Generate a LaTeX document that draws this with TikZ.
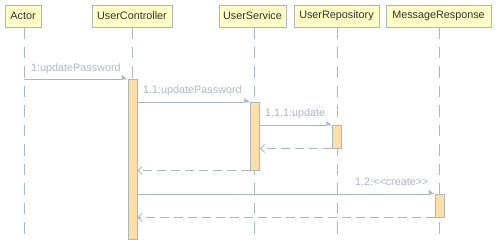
\documentclass[tikz,border=0pt]{standalone}
\usepackage{fontspec}
\setmainfont{Liberation Sans}
\usetikzlibrary{arrows.meta}
\definecolor{linec}{HTML}{A9B7C0}
\definecolor{headfill}{HTML}{FFFFC6}
\definecolor{actfill}{HTML}{FFDFA6}
\definecolor{labelc}{HTML}{AEB6BE}
\definecolor{headtext}{HTML}{303030}

\begin{document}
\begin{tikzpicture}[x=1pt,y=-1pt,
  head/.style={draw=linec, fill=headfill, line width=0.9pt, minimum height=22pt,
    inner sep=0pt, font=\fontsize{10.8}{12}\selectfont, text=headtext},
  life/.style={draw=linec, line width=0.9pt, dash pattern=on 11.5pt off 8pt},
  actbar/.style={draw=linec, fill=actfill, line width=0.9pt, minimum width=9pt, inner sep=0pt},
  msg/.style={draw=linec, line width=0.9pt, -{Triangle[left,length=5pt,width=8pt]}},
  ret/.style={draw=linec, line width=0.9pt, dash pattern=on 9pt off 5pt,
    -{Straight Barb[length=4pt,width=8pt]}},
  lbl/.style={text=labelc, font=\fontsize{10.8}{12}\selectfont, anchor=base west, inner sep=0pt}
]
\useasboundingbox (0,0) rectangle (497,245);

% participant headers
\node[head, minimum width=36pt] (hActor) at (23,16) {Actor};
\node[head, minimum width=80pt] (hUC) at (132,16) {UserController};
\node[head, minimum width=67pt] (hUS) at (252.5,16) {UserService};
\node[head, minimum width=85pt] (hUR) at (336.5,16) {UserRepository};
\node[head, minimum width=105pt] (hMR) at (438.5,16) {MessageResponse};

% lifelines
\coordinate (eActor) at (24,239);
\coordinate (eUC) at (132,239);
\coordinate (eUS) at (254.5,239);
\coordinate (eUR) at (337,239);
\coordinate (eMR) at (439,239);
\draw[life] (eActor |- hActor.south) -- (eActor);
\draw[life] (eUC |- hUC.south) -- (eUC);
\draw[life] (eUS |- hUS.south) -- (eUS);
\draw[life] (eUR |- hUR.south) -- (eUR);
\draw[life] (eMR |- hMR.south) -- (eMR);

% activation bars
\node[actbar, minimum height=160pt] (aUC) at (132.5,159) {};
\node[actbar, minimum height=68pt] (aUS) at (255,136) {};
\node[actbar, minimum height=23pt] (aUR) at (337,136.5) {};
\node[actbar, minimum height=23pt] (aMR) at (439.5,205.5) {};

% 1: updatePassword
\coordinate (m1) at (24,79);
\draw[msg] (m1) -- (m1 -| aUC.west);
\node[lbl] (l1) at (31,72) {1:updatePassword};

% 1.1: updatePassword
\coordinate (m11) at (0,102);
\draw[msg] (aUC.east |- m11) -- (aUS.west |- m11);
\node[lbl] (l11) at (143,94) {1.1:updatePassword};

% 1.1.1: update
\coordinate (m111) at (0,125);
\draw[msg] (aUS.east |- m111) -- (aUR.west |- m111);
\node[lbl] (l111) at (265,117) {1.1.1:update};

% returns
\draw[ret] (aUR.south west) -- (aUS.east |- aUR.south);
\draw[ret] (aUS.south west) -- (aUC.east |- aUS.south);

% 1.2: <<create>>
\coordinate (m12) at (0,194);
\draw[msg] (aUC.east |- m12) -- (aMR.west |- m12);
\node[lbl] (l12) at (355,186) {1.2:<{}<create>{}>};
\draw[ret] (aMR.south west) -- (aUC.east |- aMR.south);
\end{tikzpicture}
\end{document}
